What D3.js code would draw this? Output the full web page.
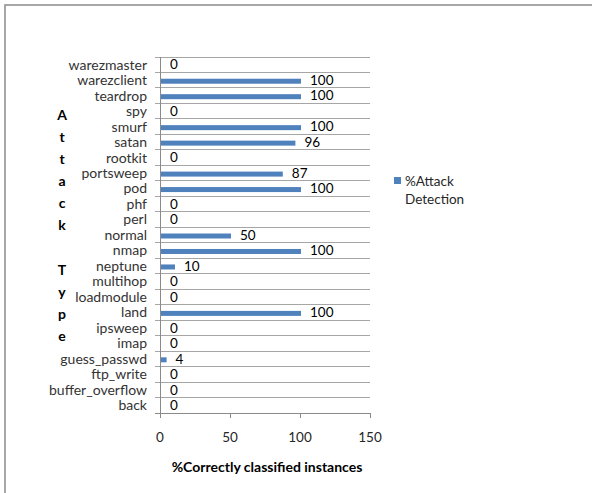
<!DOCTYPE html>
<html>
<head>
<meta charset="utf-8">
<script src="https://cdn.jsdelivr.net/npm/d3@7"></script>
<style>
  html, body { margin: 0; padding: 0; background: #fff; }
  svg { display: block; }
  text { font-family: Lato, "Open Sans", sans-serif; }
</style>
</head>
<body>
<svg id="chart" width="592" height="493"></svg>
<script>
// Attack types, listed top to bottom
const attackTypes = ["warezmaster", "warezclient", "teardrop", "spy", "smurf", "satan", "rootkit",
  "portsweep", "pod", "phf", "perl", "normal", "nmap", "neptune", "multihop", "loadmodule",
  "land", "ipsweep", "imap", "guess_passwd", "ftp_write", "buffer_overflow", "back"];
// %Attack Detection for each attack type
const detectionValues = [0, 100, 100, 0, 100, 96, 0, 87, 100, 0, 0, 50, 100, 10, 0, 0,
  100, 0, 0, 4, 0, 0, 0];
const xTicks = [0, 50, 100, 150];
const seriesName = ["%Attack", "Detection"];
const xTitle = "%Correctly classified instances";
const yTitle = "Attack Type";

const svg = d3.select("#chart");

// outer frame
svg.append("rect").attr("x", 5).attr("y", 5).attr("width", 600).attr("height", 500)
  .attr("fill", "none").attr("stroke", "#8a8a8a").attr("stroke-width", 1.5);

const plot = { left: 160, right: 370, top: 57, bottom: 413 };

const x = d3.scaleLinear().domain([0, 150]).range([plot.left, plot.right]);
const y = d3.scaleBand().domain(attackTypes).range([plot.top, plot.bottom]);

// category separators with tick stubs left of the axis
const bounds = d3.range(attackTypes.length + 1).map(i => plot.top + i * y.step());
svg.append("g").selectAll("line").data(bounds).join("line")
  .attr("x1", plot.left - 5).attr("x2", plot.right)
  .attr("y1", d => d).attr("y2", d => d)
  .attr("stroke", d => d === plot.bottom ? "#8a8a8a" : "#a6a6a6").attr("stroke-width", 1)
  .attr("shape-rendering", "crispEdges");

// value axis ticks
svg.append("g").selectAll("line").data(xTicks).join("line")
  .attr("x1", d => x(d)).attr("x2", d => x(d))
  .attr("y1", plot.bottom).attr("y2", plot.bottom + 5)
  .attr("stroke", "#8a8a8a").attr("shape-rendering", "crispEdges");

// category axis line
svg.append("line").attr("x1", plot.left).attr("x2", plot.left)
  .attr("y1", plot.top).attr("y2", plot.bottom + 5)
  .attr("stroke", "#8a8a8a").attr("shape-rendering", "crispEdges");

// bars
const barH = 5;
svg.append("g").selectAll("rect").data(attackTypes).join("rect")
  .attr("x", x(0) + 1)
  .attr("y", (d) => y(d) + y.bandwidth() / 2 - barH / 2 + 1)
  .attr("width", (d, i) => Math.max(0, x(detectionValues[i]) - x(0)))
  .attr("height", barH)
  .attr("fill", "#4f81bd");

// value labels
svg.append("g").selectAll("text").data(attackTypes).join("text")
  .attr("x", (d, i) => x(detectionValues[i]) + 10)
  .attr("y", d => y(d) + y.bandwidth() / 2)
  .attr("dy", "0.35em")
  .attr("font-size", 13.5).attr("fill", "#000")
  .text((d, i) => detectionValues[i]);

// category labels
svg.append("g").selectAll("text").data(attackTypes).join("text")
  .attr("x", plot.left - 13)
  .attr("y", d => y(d) + y.bandwidth() / 2)
  .attr("dy", "0.35em").attr("text-anchor", "end")
  .attr("font-size", 14).attr("fill", "#333")
  .text(d => d);

// tick labels
svg.append("g").selectAll("text").data(xTicks).join("text")
  .attr("x", d => x(d)).attr("y", 437).attr("dy", "0.35em")
  .attr("text-anchor", "middle").attr("font-size", 13.5).attr("fill", "#262626")
  .text(d => d);

// axis titles
svg.append("text").attr("x", (plot.left + plot.right) / 2 + 2).attr("y", 467)
  .attr("dy", "0.35em").attr("text-anchor", "middle")
  .attr("font-size", 14).attr("font-weight", "bold").attr("fill", "#000")
  .text(xTitle);

const letters = yTitle.split("");
svg.append("g").selectAll("text").data(letters).join("text")
  .attr("x", 62).attr("y", (d, i) => 115 + i * 22.1).attr("dy", "0.35em")
  .attr("text-anchor", "middle").attr("font-size", 14).attr("font-weight", "bold")
  .attr("fill", "#000")
  .text(d => d);

// legend
svg.append("rect").attr("x", 394).attr("y", 177).attr("width", 7).attr("height", 7)
  .attr("fill", "#4f81bd");
svg.append("g").selectAll("text").data(seriesName).join("text")
  .attr("x", 405).attr("y", (d, i) => 181 + i * 18).attr("dy", "0.35em")
  .attr("font-size", 13.5).attr("fill", "#262626")
  .text(d => d);
</script>
</body>
</html>
